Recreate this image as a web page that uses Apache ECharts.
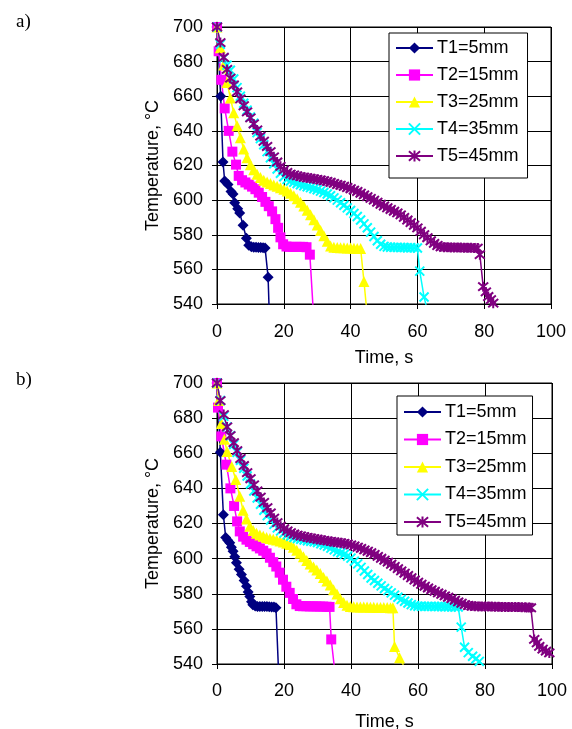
<!doctype html>
<html>
<head>
<meta charset="utf-8">
<title>Temperature vs time</title>
<script src="https://cdn.jsdelivr.net/npm/echarts@6/dist/echarts.min.js"></script>
<style>
  html, body { margin: 0; padding: 0; background: #fff; }
  #main { width: 572px; height: 729px; }
</style>
</head>
<body>
<div id="main"></div>
<script>
// series names (legend)
var names = ['T1=5mm', 'T2=15mm', 'T3=25mm', 'T4=35mm', 'T5=45mm'];
var xTicks = [0, 20, 40, 60, 80, 100];
var yTicks = [540, 560, 580, 600, 620, 640, 660, 680, 700];

// chart a) [time s, temperature C]
var t1a = [[0,700],[1.1,660],[1.8,622],[2.3,611],[3.3,609],[4.2,605],[4.8,603.5],[5.3,598.5],[6.2,595],[6.8,592.5],[7.8,585.5],[8.8,578],[9.5,574],[10.3,573],[11,572.8],[11.7,572.8],[12.4,572.7],[13.1,572.6],[13.8,572.5],[14.4,572.3],[15.3,555.5],[15.8,525]];
var t2a = [[0,700],[0.5,686],[1.3,669.5],[2.3,653],[3.5,640],[4.6,628],[5.7,620.5],[6.5,614],[7.5,611.5],[8.5,610.2],[9.5,609],[10.5,607.8],[11.5,606.3],[12.5,604.3],[13.5,601.8],[14.5,599],[15.5,596.5],[16.5,593.5],[17.5,589],[18.3,584],[19,578.5],[19.8,574.5],[20.8,573.2],[21.8,573],[22.8,573],[23.8,573],[24.8,573],[25.8,573],[26.8,572.8],[27.8,568.5],[29.1,527]];
var t3a = [[0,700],[1,688],[2,678],[3,668],[4,659],[5,650.5],[6,643],[7,636],[8,629.5],[9,624.5],[10,620.5],[11,617.5],[12,615],[13,613],[14,611.5],[15,610.5],[16,609.6],[17,608.8],[18,608],[19,607.2],[20,606.3],[21,605.2],[22,604],[23,602.5],[24,600.8],[25,598.8],[26,596.6],[27,594.2],[28,591.5],[29,588.6],[30,585.6],[31,582.5],[32,579.4],[33,576.2],[34,573.5],[35,572.8],[36,572.6],[37,572.5],[38,572.5],[39,572.4],[40,572.3],[41,572.2],[42,572.1],[43,572],[44,553],[45.3,527]];
var t4a = [[0,700],[1,690],[2,682],[3,678],[4,675],[5,670],[6,665],[7,660],[8,656],[9,652],[10,648],[11,644.5],[12,639],[13,635.5],[14,632],[15,628],[16,624.5],[17,621],[18,618],[19,615.5],[20,613.5],[21,612],[22,611],[23,610.3],[24,609.6],[25,608.9],[26,608.3],[27,607.7],[28,607.2],[29,606.6],[30,606],[31,605.2],[32,604.4],[33,603.5],[34,602.5],[35,601.3],[36,600],[37,598.5],[38,597],[39,595.5],[40,594],[41,592.3],[42,590.5],[43,588.5],[44,586.3],[45,584],[46,581.5],[47,579],[48,576.5],[49,574.5],[50,573.3],[51,572.9],[52,572.8],[53,572.7],[54,572.7],[55,572.6],[56,572.6],[57,572.5],[58,572.5],[59,572.4],[60,572.3],[60.7,559],[62,544],[63,536]];
var t5a = [[0,700],[1,691],[2,682.5],[3,675.5],[4,670.5],[5,666.5],[6,662.5],[7,658.5],[8,654.5],[9,651],[10,647.5],[11,644],[12,640.5],[13,637],[14,634],[15,631],[16,628],[17,625],[18,622],[19,619.5],[20,617.5],[21,616],[22,615],[23,614.5],[24,614],[25,613.6],[26,613.2],[27,612.9],[28,612.6],[29,612.3],[30,612],[31,611.6],[32,611.2],[33,610.8],[34,610.3],[35,609.7],[36,609],[37,608.6],[38,608],[39,607.3],[40,606.6],[41,605.8],[42,605],[43,604],[44,603],[45,602],[46,601],[47,600],[48,598.8],[49,597.6],[50,596.6],[51,595.6],[52,594.6],[53,593.6],[54,592.6],[55,591.5],[56,590],[57,588.5],[58,587],[59,585.5],[60,584],[61,582],[62,580],[63,578.3],[64,576.5],[65,575],[66,573.8],[67,573],[68,572.8],[69,572.8],[70,572.7],[71,572.7],[72,572.6],[73,572.6],[74,572.5],[75,572.5],[76,572.5],[77,572.4],[78,572.3],[78.7,568.5],[79.7,550],[80.5,547],[81.2,544.3],[82,542.5],[82.7,540.5],[83.5,538]];

// chart b)
var t1b = [[0,700],[1,660.5],[1.9,625],[2.6,612],[3.2,610.5],[3.8,609],[4.3,606.5],[4.8,604.2],[5.3,601],[5.8,597.6],[6.6,594],[7.3,591],[8.1,587.5],[8.8,584.2],[9.3,581],[9.8,578.5],[10.3,575.5],[10.7,573.8],[11.4,573],[12.1,572.8],[12.8,572.8],[13.5,572.8],[14.2,572.7],[14.9,572.7],[15.6,572.6],[16.3,572.5],[17,572.4],[17.6,572],[18.6,525]];
var t2b = [[0,700],[0.3,686],[1.3,669.6],[2.8,653.5],[4,640],[5.1,630],[6,621.2],[6.8,615.5],[7.8,612.5],[8.8,610.8],[9.8,609.5],[10.8,608.2],[11.8,607],[12.8,605.8],[13.8,604.5],[14.8,603],[15.8,600.5],[16.8,598],[17.7,595.5],[18.7,592],[19.7,588],[20.7,584],[21.7,580.5],[22.7,577],[23.7,574],[24.7,573],[25.7,572.9],[26.7,572.9],[27.7,572.8],[28.7,572.8],[29.7,572.8],[30.7,572.7],[31.7,572.7],[32.7,572.6],[33.6,572.5],[34.1,554],[35.8,525]];
var t3b = [[0,700],[0.5,690],[1.3,677],[2.2,668],[3,661],[4.4,652.5],[5.6,645],[6.8,635.5],[7.8,627.5],[8.8,622.5],[9.8,618.5],[10.8,616],[11.8,614.5],[12.8,613.5],[13.8,612.7],[14.8,612],[15.8,611.4],[16.8,611],[17.8,610.6],[18.8,610],[19.8,609.4],[20.8,608.7],[21.8,608],[22.8,606.5],[23.8,604.8],[24.8,603],[25.8,601],[26.8,599],[27.8,597],[28.8,595.3],[29.8,593.5],[30.8,591.5],[31.8,589.3],[32.8,587.3],[33.8,585],[34.8,582.3],[35.8,579.8],[36.8,577.2],[37.8,575],[38.8,573.5],[39.8,572.8],[40.8,572.6],[41.8,572.5],[42.8,572.5],[43.8,572.4],[44.8,572.4],[45.8,572.3],[46.8,572.3],[47.8,572.2],[48.8,572.2],[49.8,572.1],[50.8,572.1],[51.8,572],[52.5,572],[53,550],[54.5,543.5],[56,538],[57.5,533]];
var t4b = [[0,700],[1,690],[2,681],[3,675],[4,670],[5,665],[6,660.5],[7,656],[8,651.5],[9,647],[10,642.5],[11,638.5],[12,634.5],[13,631],[14,627.5],[15,624.5],[16,622],[17,619.5],[18,617.5],[19,615.8],[20,614.5],[21,613.5],[22,612.7],[23,612],[24,611.5],[25,611],[26,610.6],[27,610.2],[28,609.9],[29,609.6],[30,609.2],[31,608.5],[32,607.8],[33,607],[34,606],[35,605],[36,604],[37,603.3],[38,602.5],[39,601.5],[40,600.3],[41,598.5],[42,597],[43,595],[44,593],[45,591],[46,589],[47,587.5],[48,586],[49,584.5],[50,583],[51,581.8],[52,580.5],[53,579.2],[54,578],[55,576.8],[56,575.7],[57,574.7],[58,573.8],[59,573.2],[60,572.9],[61,572.9],[62,572.8],[63,572.8],[64,572.8],[65,572.7],[66,572.7],[67,572.7],[68,572.6],[69,572.6],[70,572.6],[71,572.5],[72,572.5],[72.9,561],[73.9,549.5],[75,546.5],[76.3,544.4],[77.3,543],[78.3,541.5],[79.3,539.5],[80.3,537]];
var t5b = [[0,700],[1,690],[2,682],[3,675],[4,670],[5,666],[6,661.5],[7,657],[8,653],[9,649],[10,645.5],[11,642],[12,638.5],[13,635],[14,632],[15,629],[16,626],[17,623],[18,620.5],[19,618.5],[20,617],[21,615.8],[22,614.8],[23,614],[24,613.4],[25,612.9],[26,612.5],[27,612.1],[28,611.7],[29,611.4],[30,611],[31,610.7],[32,610.4],[33,610.1],[34,609.8],[35,609.5],[36,609.2],[37,609],[38,608.7],[39,608.3],[40,607.8],[41,607.2],[42,606.5],[43,605.8],[44,605],[45,604.2],[46,603.4],[47,602.4],[48,601.3],[49,600.2],[50,599.1],[51,598],[52,596.8],[53,595.6],[54,594.3],[55,593],[56,591.7],[57,590.4],[58,589.1],[59,587.8],[60,586.6],[61,585.4],[62,584.3],[63,583.3],[64,582.3],[65,581.4],[66,580.5],[67,579.7],[68,578.8],[69,578],[70,577.2],[71,576.3],[72,575.4],[73,574.6],[74,573.8],[75,573.3],[76,573],[77,572.9],[78,572.8],[79,572.8],[80,572.8],[81,572.7],[82,572.7],[83,572.6],[84,572.6],[85,572.5],[86,572.5],[87,572.5],[88,572.4],[89,572.4],[90,572.4],[91,572.3],[92,572.3],[93,572.2],[93.7,572],[94.7,554],[95.5,552],[96.2,550],[97.2,548.5],[98.2,547.3],[99.2,546.3],[100.2,545]];

var colors = ['#000080', '#ff00ff', '#ffff00', '#00ffff', '#800080'];
var symbols = ['diamond', 'rect', 'triangle',
  'path://M0,0L10,10M10,0L0,10',
  'path://M0,0L10,10M10,0L0,10M5,-1L5,11'];
var symbolSizes = [11, 10, 11, 9, 10];

var font = 'Liberation Sans, Arial, sans-serif';

function makeSeries(idx, data, grid) {
  var stroked = idx >= 3;
  return {
    name: names[idx],
    type: 'line',
    xAxisIndex: grid,
    yAxisIndex: grid,
    data: data,
    symbol: symbols[idx],
    symbolSize: symbolSizes[idx],
    showAllSymbol: true,
    clip: true,
    lineStyle: { color: colors[idx], width: 1.5 },
    itemStyle: {
      color: colors[idx],
      borderColor: colors[idx],
      borderWidth: stroked ? 2 : 0
    },
    emphasis: { disabled: true }
  };
}

function xAxis(grid, gap, margin) {
  return {
    type: 'value', gridIndex: grid, min: 0, max: 100, interval: 20,
    name: 'Time, s', nameLocation: 'middle', nameGap: gap,
    nameTextStyle: { color: '#000', fontSize: 18, fontFamily: font },
    axisLine: { onZero: false, lineStyle: { color: '#000', width: 1 } },
    axisTick: { show: true, inside: false, length: 5, lineStyle: { color: '#000' } },
    axisLabel: { color: '#000', fontSize: 18, fontFamily: font, margin: margin },
    splitLine: { show: true, lineStyle: { color: '#000', width: 1 } }
  };
}

function yAxis(grid) {
  return {
    type: 'value', gridIndex: grid, min: 540, max: 700, interval: 20,
    name: 'Temperature, °C', nameLocation: 'middle', nameGap: 53,
    nameTextStyle: { color: '#000', fontSize: 18, fontFamily: font },
    axisLine: { show: true, lineStyle: { color: '#000', width: 1 } },
    axisTick: { show: true, inside: false, length: 5, lineStyle: { color: '#000' } },
    axisLabel: { color: '#000', fontSize: 18, fontFamily: font, margin: 14 },
    splitLine: { show: true, lineStyle: { color: '#000', width: 1 } }
  };
}

function legend(left, top, padding, gap) {
  return {
    orient: 'vertical', left: left, top: top,
    data: names,
    itemWidth: 37, itemHeight: 14, itemGap: gap,
    padding: padding,
    backgroundColor: '#fff',
    borderColor: '#000', borderWidth: 1,
    textStyle: { color: '#000', fontSize: 18, fontFamily: font, padding: [0, 0, 0, -1] },
    selectedMode: false
  };
}

var chart = echarts.init(document.getElementById('main'), null, { renderer: 'canvas' });

chart.setOption({
  animation: false,
  backgroundColor: '#fff',
  title: [
    { text: 'a)', left: 11, top: 8, textStyle: { fontFamily: 'Liberation Serif, serif', fontSize: 19, fontWeight: 'normal', color: '#000' } },
    { text: 'b)', left: 11, top: 366, textStyle: { fontFamily: 'Liberation Serif, serif', fontSize: 19, fontWeight: 'normal', color: '#000' } }
  ],
  grid: [
    { left: 217, top: 27, width: 334, height: 277, outerBoundsMode: 'none', show: true, borderColor: '#000', borderWidth: 1, backgroundColor: 'transparent' },
    { left: 217, top: 383, width: 335, height: 281, outerBoundsMode: 'none', show: true, borderColor: '#000', borderWidth: 1, backgroundColor: 'transparent' }
  ],
  xAxis: [xAxis(0, 45, 19), xAxis(1, 49, 18)],
  yAxis: [yAxis(0), yAxis(1)],
  legend: [
    legend(389, 33, [6, 9, 13, 6], 9),
    legend(397, 396, [7, 6, 4, 6], 9.5)
  ],
  series: [
    makeSeries(0, t1a, 0), makeSeries(1, t2a, 0), makeSeries(2, t3a, 0), makeSeries(3, t4a, 0), makeSeries(4, t5a, 0),
    makeSeries(0, t1b, 1), makeSeries(1, t2b, 1), makeSeries(2, t3b, 1), makeSeries(3, t4b, 1), makeSeries(4, t5b, 1)
  ]
});

window.onresize = chart.resize;
</script>
</body>
</html>
